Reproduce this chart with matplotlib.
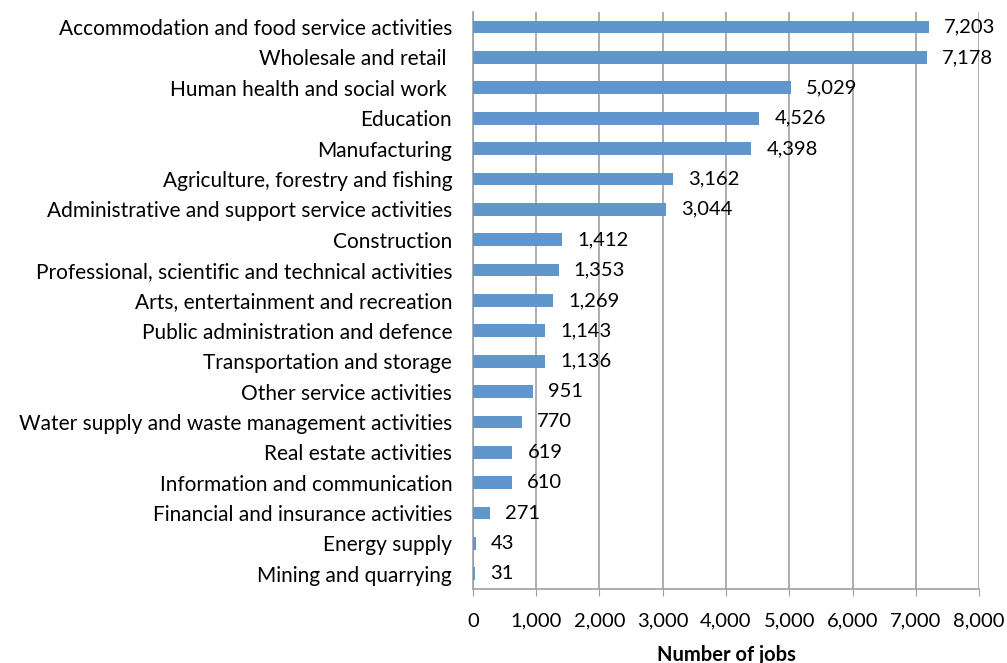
import numpy as np
import matplotlib.pyplot as plt

plt.rcParams['font.family'] = ['Lato', 'DejaVu Sans']

sectors = [
    "Accommodation and food service activities",
    "Wholesale and retail ",
    "Human health and social work ",
    "Education",
    "Manufacturing",
    "Agriculture, forestry and fishing",
    "Administrative and support service activities",
    "Construction",
    "Professional, scientific and technical activities",
    "Arts, entertainment and recreation",
    "Public administration and defence",
    "Transportation and storage",
    "Other service activities",
    "Water supply and waste management activities",
    "Real estate activities",
    "Information and communication",
    "Financial and insurance activities",
    "Energy supply",
    "Mining and quarrying",
]
jobs = [7203, 7178, 5029, 4526, 4398, 3162, 3044, 1412, 1353, 1269,
        1143, 1136, 951, 770, 619, 610, 271, 43, 31]

fs = 14.5

fig = plt.figure(figsize=(10.07, 6.63), dpi=100)
ax = fig.add_axes([0.4697, 0.1116, 0.5025, 0.8704])

y = np.arange(len(sectors))[::-1]
ax.barh(y, jobs, height=0.42, color='#6096cc', zorder=3)

for yi, v in zip(y, jobs):
    ax.annotate(f"{v:,}", (v, yi), xytext=(11, 0), textcoords='offset points',
                va='center', ha='left', fontsize=fs, color='black', zorder=4)

ax.set_xlim(0, 8000)
ax.set_ylim(-0.5, len(sectors) - 0.5)
ax.set_xticks(range(0, 8001, 1000))
ax.set_xticklabels([f"{t:,}" for t in range(0, 8001, 1000)], fontsize=fs)
ax.set_yticks(y)
ax.set_yticklabels(sectors, fontsize=15)
ax.tick_params(axis='y', length=0, pad=15)
ax.tick_params(axis='x', length=5, color='#a0a0a0', pad=12)
ax.xaxis.grid(True, color='#a0a0a0', linewidth=1.2, zorder=0)
for s in ['top', 'right']:
    ax.spines[s].set_visible(False)
for s in ['left', 'bottom']:
    ax.spines[s].set_color('#a0a0a0')
    ax.spines[s].set_linewidth(1.2)
ax.set_xlabel("Number of jobs", fontsize=fs, fontweight='bold', labelpad=11)

fig.savefig('out.png', dpi=100)
